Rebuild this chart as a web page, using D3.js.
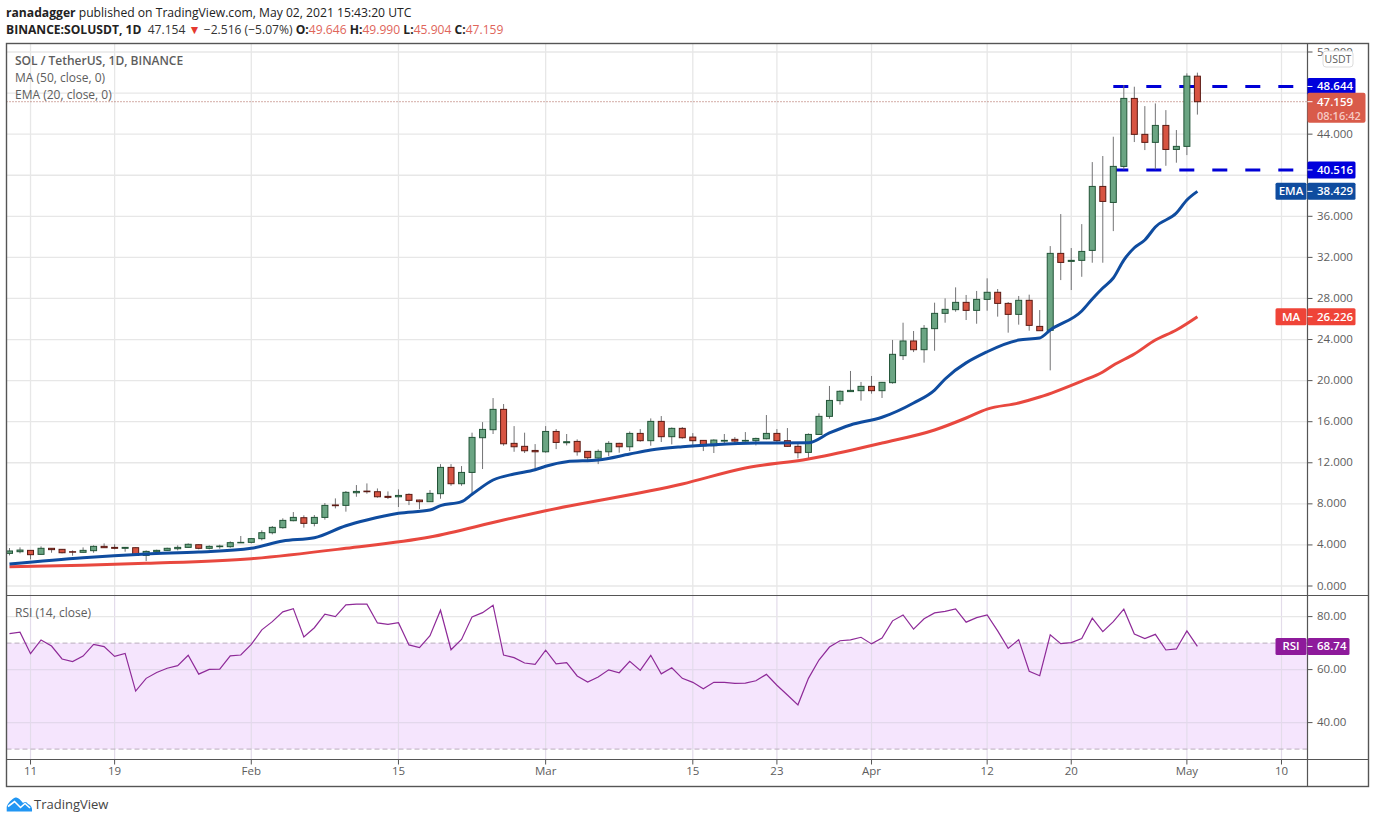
<!DOCTYPE html>
<html><head><meta charset="utf-8">
<script src="https://cdn.jsdelivr.net/npm/d3@7/dist/d3.min.js"></script>
<style>
html,body{margin:0;padding:0;background:#fff;overflow:hidden}
svg{display:block}
text{font-family:"Open Sans","Noto Sans",sans-serif}
</style></head><body>
<svg id="c" width="1376" height="823"></svg>
<script>
const firstDay = "2021-01-09";
const lastDay = "2021-05-02";
const opens = [3.18,3.34,3.47,3.08,3.67,3.57,3.34,3.28,3.44,3.86,
3.76,3.67,3.73,2.98,3.34,3.47,3.63,3.76,4.02,3.67,
3.83,3.83,4.22,4.25,4.61,5.19,5.68,6.36,6.65,6.10,
6.68,7.89,7.85,9.08,9.24,9.18,8.73,8.69,8.92,8.37,
8.21,8.99,11.55,9.96,11.06,14.44,15.22,17.20,13.89,13.60,
13.20,13.07,15.05,13.95,14.08,13.11,12.46,13.07,13.89,13.56,
14.86,14.15,16.03,14.54,15.35,14.50,14.18,13.66,14.11,14.28,
14.11,14.15,14.34,14.86,14.15,13.60,13.01,14.76,16.52,18.05,
18.93,19.02,19.44,19.02,19.80,22.43,23.86,23.01,25.06,26.55,
26.91,27.62,26.84,27.91,28.60,27.52,26.45,27.82,25.28,24.90,
32.39,31.61,31.71,32.68,38.91,37.35,40.86,47.48,43.98,43.20,
44.85,42.51,42.81,49.646];
const highs = [3.70,3.76,3.47,3.86,3.67,3.60,3.47,3.76,3.96,4.15,
4.06,3.80,3.76,3.47,3.54,3.73,3.96,4.15,4.06,3.96,
4.02,4.35,4.87,4.67,5.42,5.84,6.59,7.20,6.88,6.91,
8.08,8.53,9.25,9.83,9.99,9.50,9.21,9.41,9.02,8.40,
9.34,11.87,11.87,11.68,14.93,15.96,18.30,17.72,15.57,14.93,
13.82,15.57,15.28,14.80,14.28,13.14,13.30,14.11,13.95,15.05,
15.28,16.32,16.55,15.44,15.48,14.89,14.20,14.28,14.80,14.50,
14.99,14.44,16.65,15.28,15.38,13.95,14.86,16.81,19.48,19.05,
20.94,19.87,20.45,19.87,23.96,25.64,24.83,25.41,27.59,28.01,
29.08,28.34,28.73,29.96,28.92,27.65,28.24,28.37,26.87,33.10,
36.22,32.91,35.24,41.28,41.87,43.75,48.78,48.62,46.73,46.99,
46.34,44.40,49.92,49.99];
const lows = [2.98,3.18,2.59,3.05,3.24,3.18,2.95,3.24,3.24,3.70,
3.57,3.34,2.95,2.43,3.21,3.41,3.47,3.70,3.57,3.57,
3.63,3.73,4.19,4.15,4.45,5.03,5.58,6.30,5.68,5.81,
6.46,7.56,7.24,8.69,8.99,8.60,8.47,7.69,7.88,7.49,
8.18,8.50,9.76,9.76,9.02,11.39,14.80,13.66,13.07,12.95,
11.39,12.98,13.33,13.69,12.69,12.07,11.87,12.65,12.98,13.14,
14.05,13.66,14.02,13.79,14.34,13.50,13.14,12.95,13.89,13.89,
14.05,13.69,14.28,13.95,13.56,12.43,12.43,14.73,16.29,17.66,
18.90,18.05,18.73,18.31,19.70,22.01,22.78,21.75,22.91,25.64,
26.71,25.90,25.54,26.81,26.23,24.67,25.45,24.86,24.84,21.00,
29.79,28.82,30.11,31.48,31.48,34.56,40.57,43.23,42.45,40.57,
40.92,41.22,41.96,45.904];
const closes = [3.41,3.50,3.05,3.67,3.54,3.24,3.31,3.47,3.86,3.73,
3.67,3.76,2.98,3.37,3.47,3.67,3.76,4.06,3.67,3.86,
3.89,4.22,4.25,4.61,5.19,5.71,6.39,6.68,6.10,6.68,
7.85,7.82,9.12,9.21,9.18,8.69,8.63,8.82,8.34,8.21,
9.02,11.55,9.96,11.06,14.47,15.25,17.20,13.85,13.56,13.17,
13.07,15.05,13.98,14.05,13.07,12.49,13.11,13.89,13.56,14.86,
14.15,16.03,14.54,15.35,14.44,14.15,13.66,14.21,14.18,14.11,
14.18,14.37,14.86,14.15,13.60,12.98,14.76,16.52,18.07,18.96,
19.05,19.44,19.02,19.83,22.56,23.86,23.01,25.09,26.55,26.94,
27.62,26.84,27.91,28.60,27.52,26.45,27.82,25.38,24.86,32.39,
31.51,31.71,32.58,38.91,37.45,40.86,47.48,43.98,43.20,44.85,
42.51,42.81,49.646,47.159];
const rsiValues = [73.6,74.1,66.0,71.2,68.9,64.0,63.0,65.1,69.5,68.7,
65.0,66.1,51.9,56.7,58.9,60.5,61.5,65.4,58.3,60.1,
60.2,65.2,65.5,69.5,75.0,78.1,81.8,83.0,72.3,75.8,
80.9,80.0,84.4,84.7,84.7,77.6,77.1,77.7,69.3,68.3,
72.8,82.4,67.5,71.4,79.9,81.5,84.3,65.5,64.5,62.5,
62.0,67.3,62.2,62.6,57.6,55.3,57.2,59.9,58.8,63.1,
59.7,65.4,58.4,60.7,56.7,55.2,52.8,55.2,55.2,54.8,
54.9,55.8,58.2,54.1,50.4,46.7,56.7,63.6,68.5,70.9,
71.2,72.2,69.7,71.9,78.4,80.6,75.3,79.2,81.4,82.0,
82.9,77.9,79.6,80.6,74.6,68.0,71.3,59.4,57.7,73.1,
69.8,70.2,71.7,79.4,74.3,78.1,82.8,73.4,71.7,73.3,
67.4,67.8,74.6,68.74];
const emaDays = [0,7,13,18,23,26,29,32,34,37,40,41,43,44,46,48,50,51,53,56,59,61,64,67,71,76,78,80,83,86,88,89,93,96,98,99,102,103,104,105,106,107,108,109,111,112,113];
const emaValues = [2.14,2.76,3.12,3.31,3.67,4.38,4.70,5.87,6.43,7.08,7.40,7.82,8.21,8.93,10.32,10.91,11.32,11.66,12.10,12.27,12.85,13.24,13.56,13.76,13.92,13.95,14.90,15.68,16.43,17.82,19.08,20.16,22.81,23.95,24.15,24.93,26.78,27.95,29.02,29.99,31.74,32.94,33.69,34.96,36.32,37.59,38.429];
const maDays = [0,7,13,23,32,40,47,51,64,70,76,77,83,88,91,93,96,98,102,104,105,107,109,111,113];
const maValues = [1.88,2.02,2.21,2.66,3.67,4.77,6.43,7.33,9.93,11.49,12.37,12.56,13.92,15.19,16.36,17.23,17.82,18.40,19.96,20.84,21.50,22.59,23.95,24.93,26.226];
const priceTicks = [0,4,8,12,16,20,24,28,32,36,40,44,48,52];
const hiddenPriceLabels = [40,48];
const rsiTicks = [80,60,40];
const timeTicks = ["2021-01-11","2021-01-19","2021-02-01","2021-02-15","2021-03-01","2021-03-15","2021-03-23","2021-04-01","2021-04-12","2021-04-20","2021-05-01","2021-05-10"];
const timeLabels = ["11","19","Feb","15","Mar","15","23","Apr","12","20","May","10"];
const levelHigh = 48.644, levelLow = 40.516, lastPrice = 47.159, emaLast = 38.429, maLast = 26.226, rsiLast = 68.74;
const levelStart = "2021-04-24", levelEnd = "2021-05-11";

const UP="#6ba583",DOWN="#d75442",UPB="#225437",DOWNB="#5b1a13",WICK="#737375",GRID="#e7e7e7",FRAME="#555",TXT="#5d5d5d";
const L=6.5,R=1368.5,T=43.5,B=786.5,AX=1307.5,DIV=595.5,TA=759.5;

const svg=d3.select("#c");
const day=d=>new Date(d+"T00:00:00Z");
const x=d3.scaleUtc().domain([day(firstDay),day(lastDay)]).range([9.5,1197.4]);
const idx=i=>d3.utcDay.offset(day(firstDay),i);
const y=d3.scaleLinear().domain([0,52]).range([586,52]);
const ry=d3.scaleLinear().domain([40,80]).range([722.6,616.6]);

const g=svg.append("g");
g.append("clipPath").attr("id","pane").append("rect").attr("x",L).attr("y",T).attr("width",AX-L).attr("height",DIV-T);
timeTicks.forEach(t=>{
  g.append("line").attr("x1",x(day(t))).attr("x2",x(day(t))).attr("y1",T).attr("y2",DIV).attr("stroke",GRID).attr("stroke-width",1.3);
});
priceTicks.forEach(t=>{
  g.append("line").attr("x1",L).attr("x2",AX).attr("y1",y(t)).attr("y2",y(t)).attr("stroke",GRID).attr("stroke-width",1.3);
});
g.append("rect").attr("x",L).attr("width",AX-L).attr("y",ry(70)).attr("height",ry(30)-ry(70)).attr("fill","#f5e5fd");
timeTicks.forEach(t=>{
  g.append("line").attr("x1",x(day(t))).attr("x2",x(day(t))).attr("y1",DIV).attr("y2",TA).attr("stroke","#e3dcea").attr("stroke-width",1.2);
  g.append("line").attr("x1",x(day(t))).attr("x2",x(day(t))).attr("y1",TA).attr("y2",TA+5).attr("stroke",FRAME).attr("stroke-width",1);
});
rsiTicks.forEach(t=>{
  g.append("line").attr("x1",L).attr("x2",AX).attr("y1",ry(t)).attr("y2",ry(t)).attr("stroke",t===80?GRID:"#e3d8ec").attr("stroke-width",1.3);
});
[70,30].forEach(t=>{
  g.append("line").attr("x1",L).attr("x2",AX).attr("y1",ry(t)).attr("y2",ry(t)).attr("stroke","#b9aebd").attr("stroke-width",1).attr("stroke-dasharray","5 3");
});
g.append("line").attr("x1",L).attr("x2",AX).attr("y1",y(lastPrice)).attr("y2",y(lastPrice)).attr("stroke","#a85a4c").attr("stroke-width",1).attr("stroke-dasharray","1 2");
[levelHigh,levelLow].forEach(v=>{
  g.append("line").attr("x1",x(day(levelStart))).attr("x2",x(day(levelEnd))+1.5).attr("y1",y(v)).attr("y2",y(v)).attr("stroke","#0000d6").attr("stroke-width",3).attr("stroke-dasharray","15 18");
});
const rows=d3.range(closes.length);
const cg=g.append("g").attr("clip-path","url(#pane)");
cg.selectAll("line.w").data(rows).join("line").attr("class","w")
  .attr("x1",i=>x(idx(i))).attr("x2",i=>x(idx(i))).attr("y1",i=>y(highs[i])).attr("y2",i=>y(lows[i])).attr("stroke",WICK).attr("stroke-width",1);
cg.selectAll("rect.b").data(rows).join("rect").attr("class","b")
  .attr("x",i=>x(idx(i))-3).attr("width",6)
  .attr("y",i=>y(Math.max(opens[i],closes[i])))
  .attr("height",i=>Math.max(0.5,Math.abs(y(opens[i])-y(closes[i]))))
  .attr("fill",i=>closes[i]>=opens[i]?UP:DOWN)
  .attr("stroke",i=>closes[i]>=opens[i]?UPB:DOWNB).attr("stroke-width",1);
const line=d3.line().curve(d3.curveMonotoneX).x(d=>x(idx(d[0]))).y(d=>y(d[1]));
cg.append("path").attr("d",line(maDays.map((d,i)=>[d,maValues[i]]))).attr("fill","none").attr("stroke","#e8483f").attr("stroke-width",3).attr("stroke-linejoin","round");
cg.append("path").attr("d",line(emaDays.map((d,i)=>[d,emaValues[i]]))).attr("fill","none").attr("stroke","#0f4c9f").attr("stroke-width",3).attr("stroke-linejoin","round");
const rl=d3.line().x((d,i)=>x(idx(i))).y(d=>ry(d));
g.append("path").attr("d",rl(rsiValues)).attr("fill","none").attr("stroke","#8e2a98").attr("stroke-width",1.2);

const frame=g.append("g").attr("fill","none").attr("stroke",FRAME);
frame.append("rect").attr("x",L).attr("y",T).attr("width",R-L).attr("height",B-T).attr("stroke-width",1.4);
[[AX,T,AX,B],[L,DIV,R,DIV],[L,TA,R,TA]].forEach(a=>{
  frame.append("line").attr("x1",a[0]).attr("y1",a[1]).attr("x2",a[2]).attr("y2",a[3]).attr("stroke-width",1.2);
});
const AF=11.5;
priceTicks.forEach(t=>{
  g.append("line").attr("x1",AX).attr("x2",AX+5).attr("y1",y(t)).attr("y2",y(t)).attr("stroke",FRAME);
  if(hiddenPriceLabels.includes(t)) return;
  g.append("text").attr("x",1317).attr("y",y(t)+3.5).attr("font-size",AF).attr("fill",TXT).text(d3.format(".3f")(t));
});
rsiTicks.forEach(t=>{
  g.append("line").attr("x1",AX).attr("x2",AX+5).attr("y1",ry(t)).attr("y2",ry(t)).attr("stroke",FRAME);
  g.append("text").attr("x",1317).attr("y",ry(t)+3.5).attr("font-size",AF).attr("fill",TXT).text(d3.format(".2f")(t));
});
timeTicks.forEach((t,i)=>{
  g.append("text").attr("x",x(day(t))).attr("y",775).attr("text-anchor","middle").attr("font-size",AF).attr("fill",TXT).text(timeLabels[i]);
});
g.append("rect").attr("x",1323).attr("y",51).attr("width",30).attr("height",16).attr("rx",3).attr("fill","#fff").attr("stroke","#dcdcdc");
g.append("text").attr("x",1338).attr("y",63).attr("text-anchor","middle").attr("font-size",10.5).attr("fill",TXT).text("USDT");

function tag(yv,color,val,name,w){
  const h=17, top=yv-h/2;
  g.append("rect").attr("x",AX).attr("y",top).attr("width",w||48).attr("height",h).attr("rx",1.5).attr("fill",color);
  g.append("line").attr("x1",AX).attr("x2",AX+5).attr("y1",yv).attr("y2",yv).attr("stroke","#fff");
  g.append("text").attr("x",1317).attr("y",yv+4).attr("font-size",AF).attr("font-weight",600).attr("fill","#fff").text(val);
  if(name){
    g.append("rect").attr("x",AX-32).attr("y",top).attr("width",31).attr("height",h).attr("rx",1.5).attr("fill",color);
    g.append("text").attr("x",AX-16.5).attr("y",yv+4).attr("text-anchor","middle").attr("font-size",AF).attr("font-weight",600).attr("fill","#fff").text(name);
  }
}
tag(y(levelHigh),"#0000dc",d3.format(".3f")(levelHigh));
tag(y(levelLow),"#0000dc",d3.format(".3f")(levelLow));
tag(y(emaLast),"#0f4c9f",d3.format(".3f")(emaLast),"EMA");
tag(y(maLast),"#ef4438",d3.format(".3f")(maLast),"MA");
tag(ry(rsiLast),"#8e1a9b",d3.format(".2f")(rsiLast),"RSI",42);
const ly=y(lastPrice);
g.append("rect").attr("x",AX).attr("y",ly-9).attr("width",58).attr("height",30).attr("rx",2).attr("fill","#d95b4a");
g.append("line").attr("x1",AX).attr("x2",AX+5).attr("y1",ly).attr("y2",ly).attr("stroke","#fff");
g.append("text").attr("x",1317).attr("y",ly+4).attr("font-size",AF).attr("font-weight",600).attr("fill","#fff").text(d3.format(".3f")(lastPrice));
g.append("text").attr("x",1317).attr("y",ly+18).attr("font-size",AF-0.5).attr("font-weight",600).attr("fill","#f6c9c2").text("08:16:42");

const leg=[["SOL / TetherUS, 1D, BINANCE",65,600],["MA (50, close, 0)",82,400],["EMA (20, close, 0)",98.5,400]];
leg.forEach(l=>g.append("text").attr("x",15).attr("y",l[1]).attr("font-size",12).attr("font-weight",l[2]).attr("fill",TXT).text(l[0]));
g.append("text").attr("x",15).attr("y",616.5).attr("font-size",12).attr("fill",TXT).text("RSI (14, close)");

const h1=g.append("text").attr("x",6).attr("y",17).attr("font-size",12.15).attr("fill","#222");
h1.append("tspan").attr("font-weight",700).text("ranadagger");
h1.append("tspan").text(" published on TradingView.com, May 02, 2021 15:43:20 UTC");
const h2=g.append("text").attr("x",6).attr("y",34).attr("font-size",12.1).attr("fill","#222");
const RED="#e0655a";
[["BINANCE:SOLUSDT, 1D",700,"#222"],["  47.154",400,"#333"],[" ▼",400,"#e5392e"],[" −2.516 (−5.07%) ",400,"#333"],["O:",700,"#222"],["49.646",400,RED],[" H:",700,"#222"],["49.990",400,RED],[" L:",700,"#222"],["45.904",400,RED],[" C:",700,"#222"],["47.159",400,RED]]
 .forEach(s=>h2.append("tspan").style("white-space","pre").attr("font-weight",s[1]).attr("fill",s[2]).text(s[0]));

g.append("path").attr("d","M6.7 811.5 L6.7 807 C7 804 12 798.5 15.5 797.5 C18 797 20 799.5 23 803 C25 801 27 802 28 804 C31 805 32.5 808 32 811.5 Z").attr("fill","#2196f3");
g.append("path").attr("d","M8 806.5 L14.5 801.5 L20.5 807.5 L25 803.5 L30 808").attr("fill","none").attr("stroke","#fff").attr("stroke-width",1.6);
g.append("text").attr("x",34).attr("y",809).attr("font-size",13).attr("fill","#444").text("TradingView");
</script>
</body></html>
